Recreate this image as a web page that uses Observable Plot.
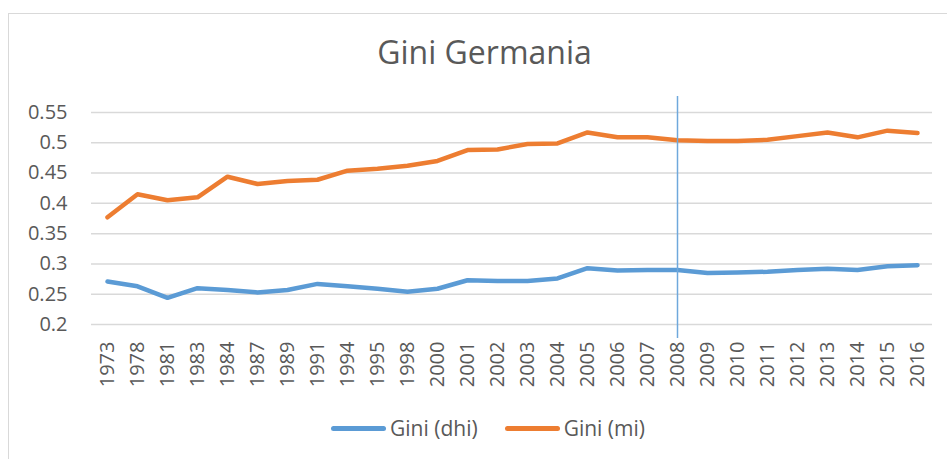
<!DOCTYPE html>
<html>
<head>
<meta charset="utf-8">
<script src="https://cdn.jsdelivr.net/npm/d3@7"></script>
<script src="https://cdn.jsdelivr.net/npm/@observablehq/plot@0.6"></script>
<style>
  html, body { margin: 0; padding: 0; background: #fff; }
  #wrap { position: relative; width: 947px; height: 459px; overflow: hidden; font-family: "Open Sans", "Noto Sans", sans-serif; color: #595959; }
  #frame { position: absolute; left: 8px; top: 13px; width: 960px; height: 460px; border-left: 1.5px solid #d9d9d9; border-top: 1.5px solid #d9d9d9; }
  #title { position: absolute; left: 0; width: 969px; top: 36px; text-align: center; font-size: 32px; line-height: 32px; color: #595959; }
  #chart { position: absolute; left: 0; top: 90px; }
  #legend { position: absolute; left: 331px; top: 413px; height: 30px; display: flex; align-items: center; font-size: 21px; color: #595959; white-space: nowrap; }
  .sw { display: inline-block; width: 55px; height: 5px; border-radius: 3px; margin-right: 4px; }
  .item { display: flex; align-items: center; margin-right: 27px; }
</style>
</head>
<body>
<div id="wrap">
  <div id="frame"></div>
  <div id="title">Gini Germania</div>
  <div id="chart"></div>
  <div id="legend"></div>
</div>
<script>
const years = ["1973","1978","1981","1983","1984","1987","1989","1991","1994","1995","1998","2000","2001","2002","2003","2004","2005","2006","2007","2008","2009","2010","2011","2012","2013","2014","2015","2016"];
const giniDhi = [0.271,0.263,0.244,0.260,0.257,0.253,0.257,0.267,0.263,0.259,0.254,0.259,0.273,0.272,0.272,0.276,0.293,0.289,0.290,0.290,0.285,0.286,0.287,0.290,0.292,0.290,0.296,0.298];
const giniMi = [0.377,0.415,0.405,0.410,0.444,0.432,0.437,0.439,0.454,0.457,0.462,0.470,0.488,0.489,0.498,0.499,0.517,0.509,0.509,0.504,0.503,0.503,0.505,0.511,0.517,0.509,0.520,0.516];
const seriesNames = ["Gini (dhi)", "Gini (mi)"];
const seriesColors = ["#5b9bd5", "#ed7d31"];
const yTicks = [0.2, 0.25, 0.3, 0.35, 0.4, 0.45, 0.5, 0.55];
const markerYear = ["2008"];

const data = [];
years.forEach((y, i) => {
  data.push({year: y, value: giniDhi[i], series: seriesNames[0]});
  data.push({year: y, value: giniMi[i], series: seriesNames[1]});
});

const chart = Plot.plot({
  width: 947,
  height: 300,
  marginTop: 22,
  marginBottom: 66,
  marginLeft: 91,
  marginRight: 15,
  style: {fontFamily: "'Open Sans', 'Noto Sans', sans-serif", color: "#595959", background: "transparent"},
  x: {type: "point", domain: years, padding: 0.5},
  y: {domain: [0.2, 0.55]},
  color: {domain: seriesNames, range: seriesColors},
  marks: [
    Plot.gridY(yTicks, {stroke: "#d9d9d9", strokeOpacity: 1, strokeWidth: 1.5}),
    Plot.axisY(yTicks, {tickSize: 0, tickPadding: 24, fontSize: 20, fill: "#595959", tickFormat: d => String(+d.toFixed(2)), label: null}),
    Plot.axisX({tickSize: 0, tickPadding: 17, tickRotate: -90, fontSize: 20, fill: "#595959", label: null}),
    Plot.line(data, {x: "year", y: "value", z: "series", stroke: "series", strokeWidth: 4.5, strokeLinejoin: "round", strokeLinecap: "round"}),
    Plot.ruleX(markerYear, {stroke: "#6fa8dc", strokeWidth: 1.5, insetTop: -16, insetBottom: -14})
  ]
});
document.getElementById("chart").appendChild(chart);

const legend = document.getElementById("legend");
seriesNames.forEach((name, i) => {
  const item = document.createElement("div");
  item.className = "item";
  const sw = document.createElement("span");
  sw.className = "sw";
  sw.style.background = seriesColors[i];
  const tx = document.createElement("span");
  tx.textContent = name;
  item.appendChild(sw);
  item.appendChild(tx);
  legend.appendChild(item);
});
</script>
</body>
</html>
